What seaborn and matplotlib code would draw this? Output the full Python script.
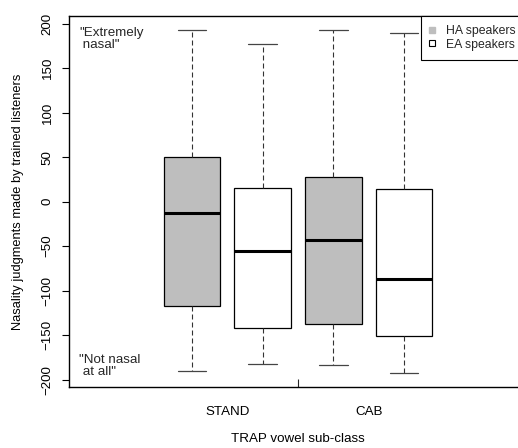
import numpy as np
import pandas as pd
import matplotlib
matplotlib.use("Agg")
import matplotlib.pyplot as plt
from matplotlib.lines import Line2D
import seaborn as sns

# Categories and groups
subclasses = ["STAND", "CAB"]
speaker_groups = ["HA speakers", "EA speakers"]

# Five-number summaries: lower whisker, Q1, median, Q3, upper whisker
ha_stand = [-190, -117, -13, 50, 193]
ea_stand = [-182, -142, -55, 15, 177]
ha_cab = [-183, -138, -43, 28, 193]
ea_cab = [-193, -151, -87, 14, 189]

y_ticks = [-200, -150, -100, -50, 0, 50, 100, 150, 200]

groups = [
    ("STAND", "HA speakers", ha_stand),
    ("STAND", "EA speakers", ea_stand),
    ("CAB", "HA speakers", ha_cab),
    ("CAB", "EA speakers", ea_cab),
]
rows = [{"subclass": s, "speakers": g, "value": v} for s, g, vals in groups for v in vals]
df = pd.DataFrame(rows)

sns.set_theme(style="ticks")
plt.rcParams["font.family"] = ["Liberation Sans", "DejaVu Sans"]
FS = 9.6
plt.rcParams["font.size"] = FS

W, H = 518, 448
fig = plt.figure(figsize=(W / 100, H / 100), dpi=100)
left, right, top, bottom = 69, 527, 16, 387.3
ax = fig.add_axes([left / W, (H - bottom) / H, (right - left) / W, (bottom - top) / H])

sns.boxplot(
    data=df, x="subclass", y="value", hue="speakers",
    order=subclasses, hue_order=speaker_groups,
    palette={"HA speakers": "#BEBEBE", "EA speakers": "white"},
    saturation=1, width=1.0, gap=0.2, whis=(0, 100),
    linecolor="black", linewidth=0.9,
    medianprops=dict(linewidth=2.2, color="black"),
    whiskerprops=dict(linestyle=(0, (4.5, 2.7)), linewidth=0.8, color="#333333"),
    capprops=dict(linewidth=0.9, color="#444444"),
    legend=False, ax=ax,
)

ax.set_xlim(-1.118, 2.118)
ax.set_ylim(-208.6, 208.6)

for side in ["left", "bottom", "top"]:
    ax.spines[side].set_visible(True)
    ax.spines[side].set_linewidth(1.0)
    ax.spines[side].set_color("black")
ax.spines["right"].set_visible(False)

ax.set_yticks(y_ticks)
ax.tick_params(axis="y", length=5, width=0.8, direction="out", pad=6,
               labelsize=FS, labelrotation=90, left=True, colors="black")
for lbl in ax.get_yticklabels():
    lbl.set_va("center")

ax.set_xticks([0, 1], subclasses)
ax.tick_params(axis="x", which="major", length=0, pad=13.5, labelsize=FS, colors="black")
ax.set_xticks([0.5], minor=True)
ax.tick_params(axis="x", which="minor", direction="in", length=6, width=0.8, bottom=True)

ax.set_xlabel("TRAP vowel sub-class", fontsize=FS, labelpad=11, color="black")
ax.set_ylabel("Nasality judgments made by trained listeners", fontsize=9.3, labelpad=12.5, color="black")

ax.text(0.0218, 0.938, '"Extremely\n nasal"', transform=ax.transAxes,
        ha="left", va="center", fontsize=FS, linespacing=0.95)
ax.text(0.0218, 0.0574, '"Not nasal\n at all"', transform=ax.transAxes,
        ha="left", va="center", fontsize=FS, linespacing=0.95)

LFS = 8.8
handles = [
    Line2D([], [], marker="s", linestyle="none", markersize=4,
           markerfacecolor="#BEBEBE", markeredgecolor="#BEBEBE"),
    Line2D([], [], marker="s", linestyle="none", markersize=4,
           markerfacecolor="white", markeredgecolor="black", markeredgewidth=0.8),
]
leg = fig.legend(handles, speaker_groups, loc="upper left",
                 bbox_to_anchor=(420.7 / W, (H - top) / H), borderaxespad=0,
                 frameon=True, fancybox=False, edgecolor="black", framealpha=1,
                 fontsize=LFS, borderpad=0.75, handlelength=0.39, handletextpad=0.9,
                 labelspacing=0.12)
leg.get_frame().set_linewidth(0.8)

fig.savefig("out.png", dpi=100)
